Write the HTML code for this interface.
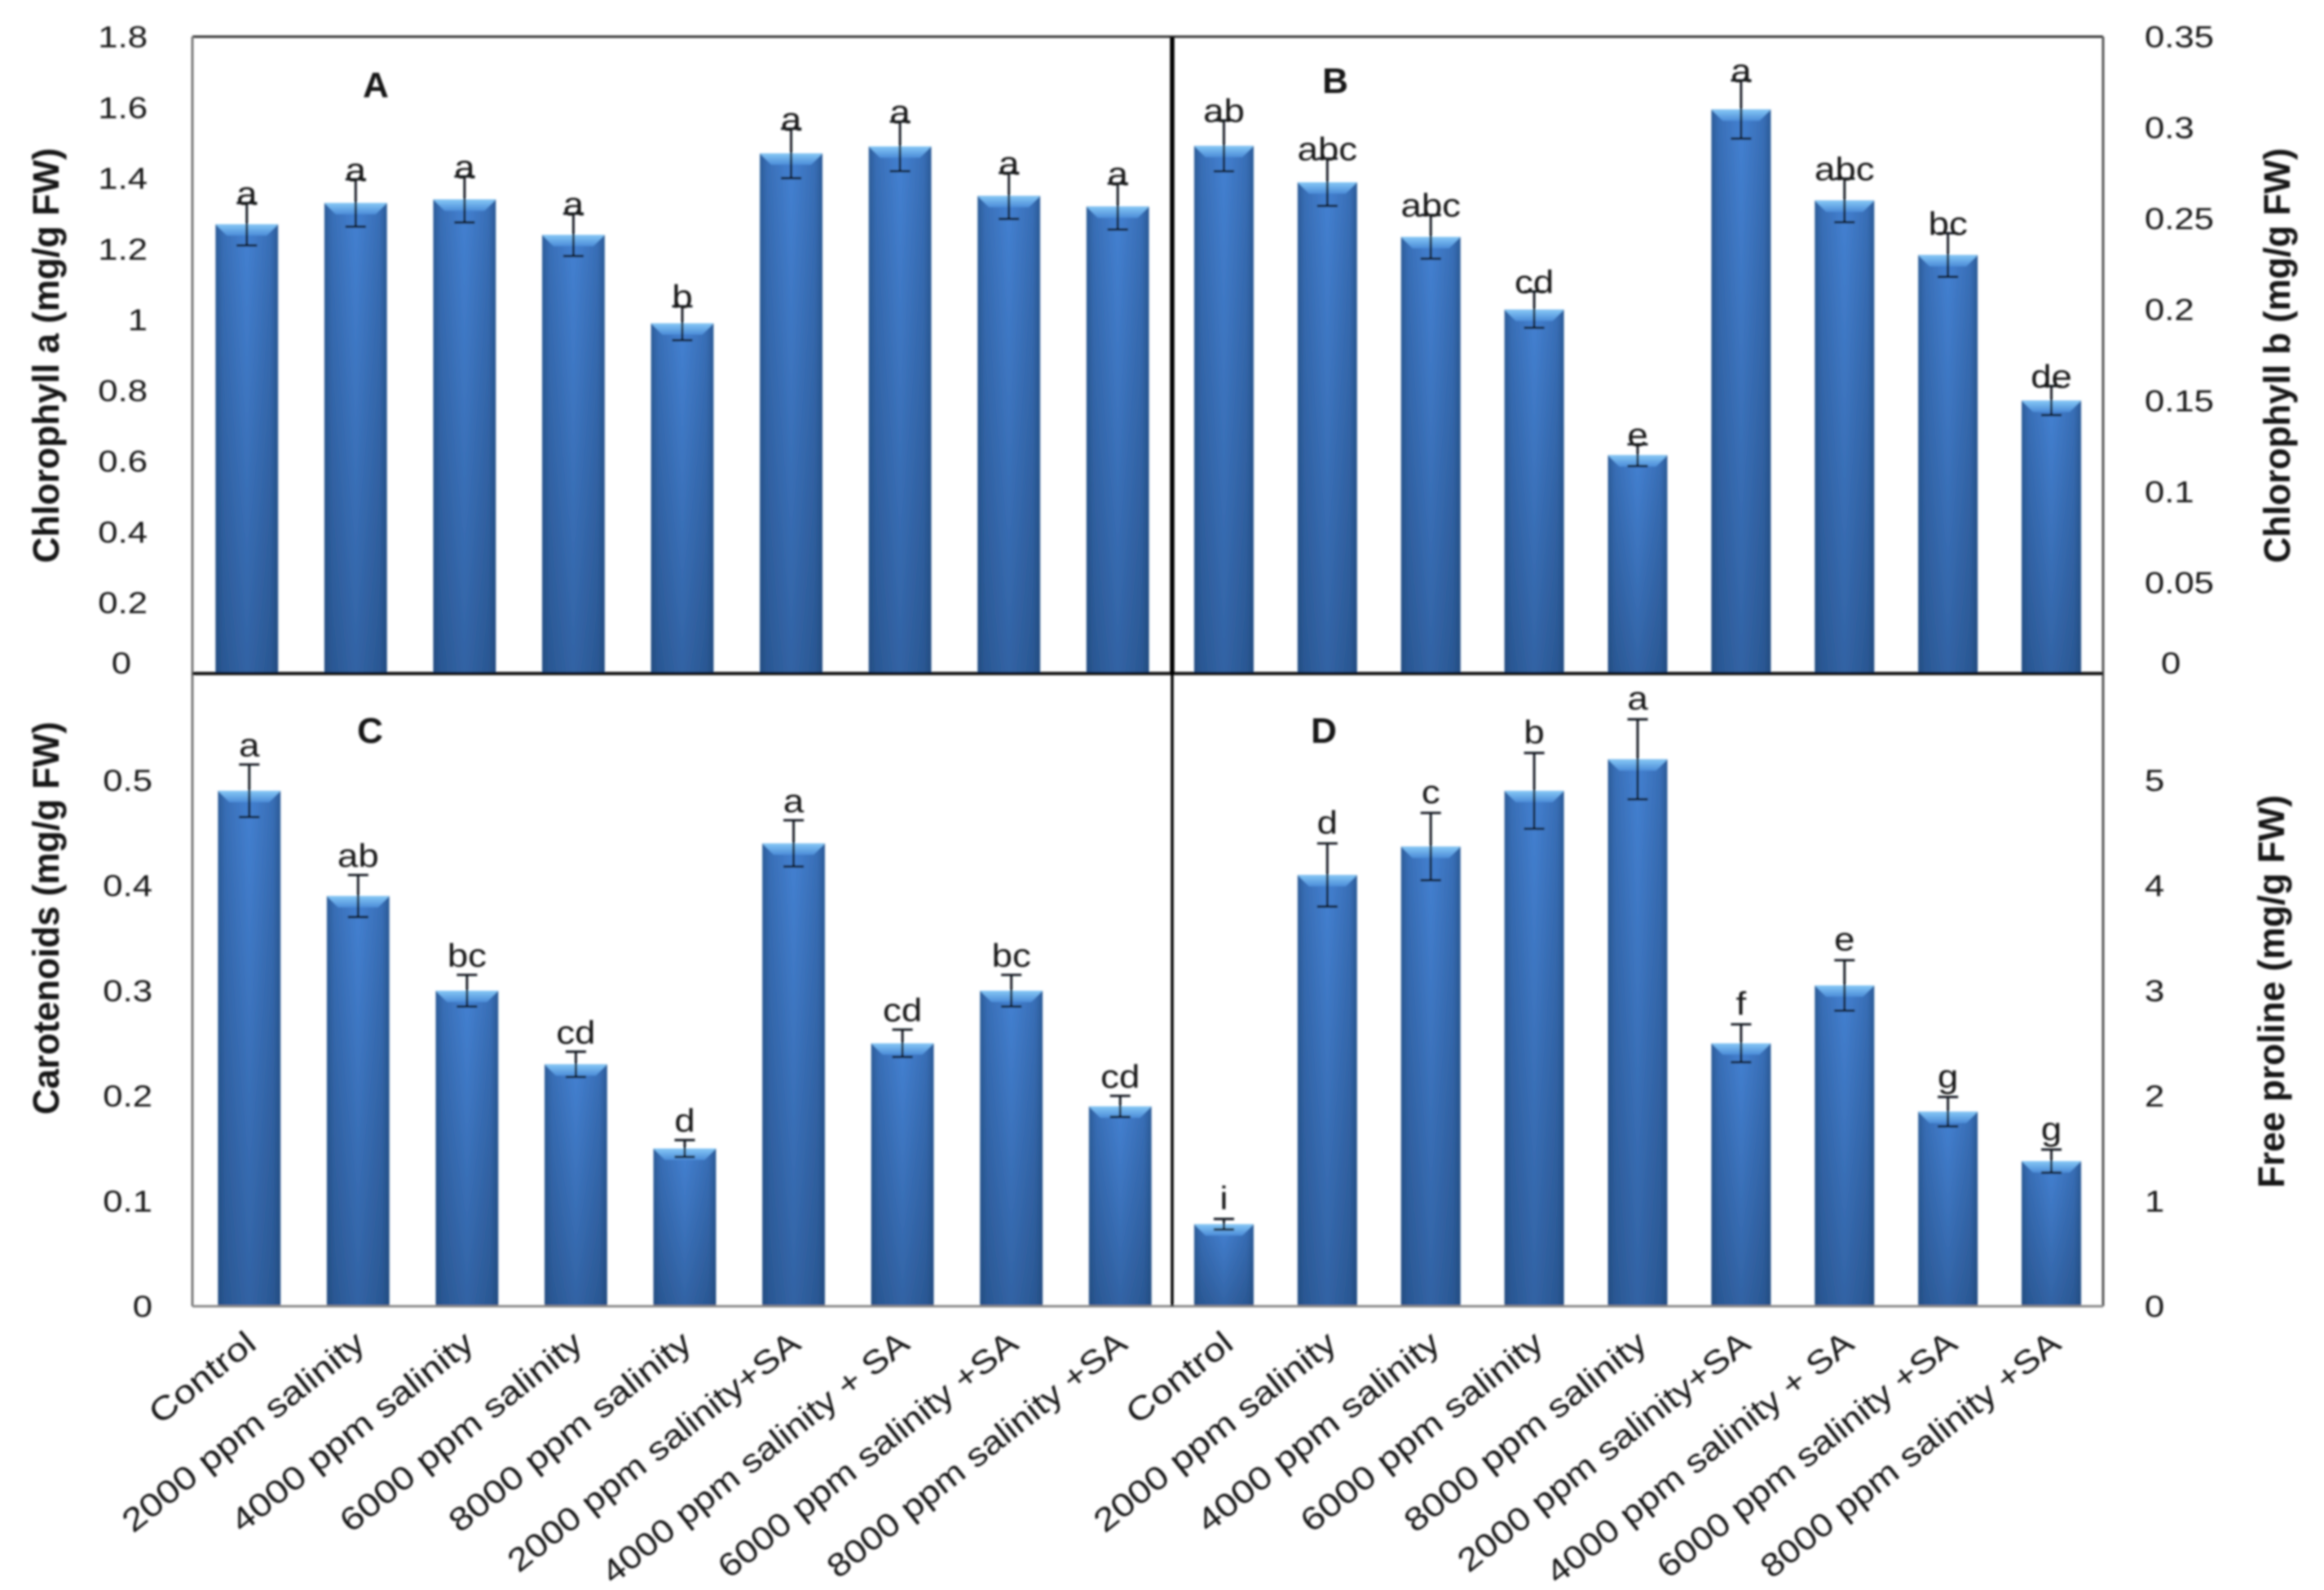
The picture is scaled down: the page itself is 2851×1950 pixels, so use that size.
<!DOCTYPE html>
<html lang="en">
<head>
<meta charset="utf-8">
<title>Chlorophyll, carotenoids and free proline under salinity</title>
<style>
html,body{margin:0;padding:0;background:#fff;}
svg{display:block;}
text{font-family:"Liberation Sans",sans-serif;fill:#161616;}
</style>
</head>
<body>
<svg id="chart" xmlns="http://www.w3.org/2000/svg" width="2851" height="1950" viewBox="0 0 2851 1950">
<defs>
<linearGradient id="barSide" x1="0" y1="0" x2="1" y2="0">
<stop offset="0" stop-color="#2b5c98"/>
<stop offset="0.12" stop-color="#386eb6"/>
<stop offset="0.5" stop-color="#4481d2"/>
<stop offset="0.88" stop-color="#386eb6"/>
<stop offset="1" stop-color="#2a5a96"/>
</linearGradient>
<linearGradient id="barShade" x1="0" y1="0" x2="0" y2="1">
<stop offset="0" stop-color="#14325a" stop-opacity="0"/>
<stop offset="1" stop-color="#14325a" stop-opacity="0.38"/>
</linearGradient>
<linearGradient id="barBevel" x1="0" y1="0" x2="0" y2="1">
<stop offset="0" stop-color="#86c8f6"/>
<stop offset="1" stop-color="#4b8cd8"/>
</linearGradient>
<filter id="soft" x="-2%" y="-2%" width="104%" height="104%"><feGaussianBlur stdDeviation="1.4"/></filter>
</defs>
<g id="root" filter="url(#soft)"></g>
</svg>
<script>
const categories = ["Control","2000 ppm salinity","4000 ppm salinity","6000 ppm salinity","8000 ppm salinity","2000 ppm salinity+SA","4000 ppm salinity + SA","6000 ppm salinity +SA","8000 ppm salinity +SA"];

const valuesA = [1.27,1.33,1.34,1.24,0.99,1.47,1.49,1.35,1.32];
const errorsA = [0.06,0.067,0.065,0.06,0.048,0.07,0.07,0.065,0.065];
const lettersA = ["a","a","a","a","b","a","a","a","a"];
const ticksA = ["0","0.2","0.4","0.6","0.8","1","1.2","1.4","1.6","1.8"];

const valuesB = [0.29,0.27,0.24,0.2,0.12,0.31,0.26,0.23,0.15];
const errorsB = [0.014,0.013,0.012,0.01,0.006,0.016,0.012,0.012,0.008];
const lettersB = ["ab","abc","abc","cd","e","a","abc","bc","de"];
const ticksB = ["0","0.05","0.1","0.15","0.2","0.25","0.3","0.35"];

const valuesC = [0.49,0.39,0.30,0.23,0.15,0.44,0.25,0.30,0.19];
const errorsC = [0.025,0.02,0.015,0.012,0.008,0.022,0.013,0.015,0.01];
const lettersC = ["a","ab","bc","cd","d","a","cd","bc","cd"];
const ticksC = ["0","0.1","0.2","0.3","0.4","0.5"];

const valuesD = [0.78,4.1,4.37,4.9,5.2,2.5,3.05,1.85,1.38];
const errorsD = [0.05,0.3,0.32,0.36,0.38,0.18,0.24,0.14,0.11];
const lettersD = ["i","d","c","b","a","f","e","g","g"];
const ticksD = ["0","1","2","3","4","5"];

const NS = "http://www.w3.org/2000/svg";
const root = document.getElementById("root");

function make(tag, attrs, parent) {
  const el = document.createElementNS(NS, tag);
  for (const k in attrs) el.setAttribute(k, attrs[k]);
  (parent || root).appendChild(el);
  return el;
}

/* Approximate rendered label length: the reference face is narrower in some glyphs than Liberation Sans. */
function labelLength(s) {
  let em = 0;
  for (const ch of s) {
    if (/[0-9]/.test(ch)) em += 0.507;
    else if (ch === " ") em += 0.226;
    else if ("pn".includes(ch)) em += 0.525;
    else if (ch === "m") em += 0.799;
    else if (ch === "s") em += 0.391;
    else if (ch === "a") em += 0.479;
    else if ("li".includes(ch)) em += 0.229;
    else if (ch === "t") em += 0.335;
    else if (ch === "y") em += 0.453;
    else if (ch === "+") em += 0.498;
    else if (ch === "S") em += 0.459;
    else if (ch === "A") em += 0.579;
    else if (ch === "C") em += 0.533;
    else if (ch === "o") em += 0.527;
    else if (ch === "r") em += 0.349;
    else em += 0.5;
  }
  return em * 51;
}

function drawPanel(p) {
  const group = make("g", {});
  
  

  const band = (p.x1 - p.x0) / p.values.length;
  const xBase = i => p.x0 + band * (i + 0.5);
  const xCenter = i => xBase(i) + p.barShift;
  const yScale = v => p.yBase - (v / p.max) * (p.yBase - p.yTop);
  const barWidth = band * 0.575;

  p.values.forEach((v, i) => {
    const cx = xCenter(i);
    const y = yScale(v);
    const x = cx - barWidth / 2;
    const bar = make("rect", {x: x, y: y, width: barWidth, height: p.yBase - y, fill: "url(#barSide)"}, group);
    
    
    const shade = make("rect", {x: x, y: y, width: barWidth, height: p.yBase - y, fill: "url(#barShade)"}, group);
    
    
    const pts = [[x, y], [x + barWidth, y], [x + barWidth - 14, y + 14], [x + 14, y + 14]].map(q => q.join(",")).join(" ");
    const bevel = make("polygon", {points: pts, fill: "url(#barBevel)"}, group);
    
    
  });

  p.values.forEach((v, i) => {
    const cx = xCenter(i);
    const hi = yScale(v + p.errors[i]);
    const lo = yScale(v - p.errors[i]);
    const err = make("path", {d: "M" + cx + " " + hi + "V" + lo + "M" + (cx - 12.5) + " " + hi + "h25M" + (cx - 12.5) + " " + lo + "h25", stroke: "#10151f", "stroke-width": 2.8, fill: "none"}, group);
    
    
    const lab = make("text", {transform: "translate(" + cx + "," + (hi - p.letterGap) + ") scale(1.14,1)", "text-anchor": "middle", "font-size": 40}, group);
    lab.textContent = p.letters[i];
    
    
  });

  p.ticks.forEach(t => {
    const val = parseFloat(t);
    let y = yScale(val);
    let x = p.tickX;
    if (val === 0) { y += p.zeroDy; x += p.zeroDx; }
    const lab = make("text", {transform: "translate(" + x + "," + (y + 13) + ") scale(1.18,1)", "text-anchor": p.tickAnchor, "font-size": 37}, group);
    lab.textContent = t;
    
    
  });

  const letter = make("text", {x: p.letterX, y: p.letterY, "text-anchor": "middle", "font-size": 44, "font-weight": "bold"}, group);
  letter.textContent = p.id;
  
  

  const title = make("text", {transform: "translate(" + p.titleX + "," + p.titleY + ") rotate(-90)", "text-anchor": "middle", "font-size": 45, "font-weight": "bold", textLength: p.titleLen, lengthAdjust: "spacingAndGlyphs"}, group);
  title.textContent = p.title;
  
  

  if (p.showCategories) {
    categories.forEach((c, i) => {
      const t = make("text", {transform: "translate(" + (xBase(i) + 14) + ",1652) rotate(-38.6)", "text-anchor": "end", "font-size": 40, textLength: labelLength(c), lengthAdjust: "spacingAndGlyphs"}, group);
      t.textContent = c;
      
      
    });
  }
}

const panels = [
  {id:"A", values:valuesA, errors:errorsA, letters:lettersA, ticks:ticksA, max:1.8, x0:236, x1:1438, yTop:45, yBase:826, barShift:0, tickX:181, tickAnchor:"end", zeroDy:-13, zeroDx:-20, letterGap:-2, letterX:461, letterY:119, title:"Chlorophyll a (mg/g FW)", titleX:72, titleY:436, titleLen:509, showCategories:false},
  {id:"B", values:valuesB, errors:errorsB, letters:lettersB, ticks:ticksB, max:0.35, x0:1438, x1:2580, yTop:45, yBase:826, barShift:0, tickX:2631, tickAnchor:"start", zeroDy:-13, zeroDx:20, letterGap:-2, letterX:1638, letterY:114, title:"Chlorophyll b (mg/g FW)", titleX:2809, titleY:436, titleLen:509, showCategories:false},
  {id:"C", values:valuesC, errors:errorsC, letters:lettersC, ticks:ticksC, max:0.6, x0:236, x1:1438, yTop:828, yBase:1602, barShift:3, tickX:187, tickAnchor:"end", zeroDy:0, zeroDx:0, letterGap:10, letterX:454, letterY:911, title:"Carotenoids (mg/g FW)", titleX:72, titleY:1126, titleLen:482, showCategories:true},
  {id:"D", values:valuesD, errors:errorsD, letters:lettersD, ticks:ticksD, max:6, x0:1438, x1:2580, yTop:828, yBase:1602, barShift:0, tickX:2631, tickAnchor:"start", zeroDy:0, zeroDx:0, letterGap:12, letterX:1624, letterY:911, title:"Free proline (mg/g FW)", titleX:2802, titleY:1216, titleLen:482, showCategories:true}
];

panels.forEach(drawPanel);

const frame = [
  {name:"frame-top", d:"M236 45H2580", color:"#333", w:3},
  {name:"frame-left", d:"M236 45V1602", color:"#777", w:3},
  {name:"frame-right", d:"M2580 45V1602", color:"#555", w:3},
  {name:"frame-bottom", d:"M236 1602H2580", color:"#888", w:3},
  {name:"frame-middle-horizontal", d:"M236 826H2580", color:"#111", w:4},
  {name:"frame-middle-vertical-upper", d:"M1438 45V826", color:"#000", w:5.5},
  {name:"frame-middle-vertical-lower", d:"M1438 826V1602", color:"#000", w:3.5}
];
frame.forEach(f => {
  const line = make("path", {d: f.d, stroke: f.color, "stroke-width": f.w, fill: "none"});
  
  
});
</script>
</body>
</html>
